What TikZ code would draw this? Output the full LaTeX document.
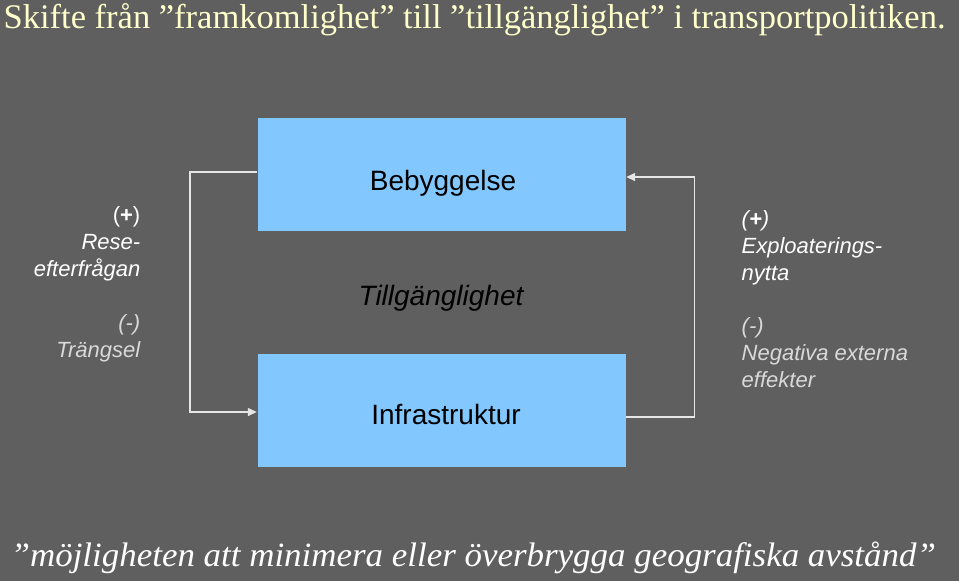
\documentclass[tikz,border=0pt]{standalone}
\usepackage{fontspec}
\setmainfont{Liberation Serif}
\setsansfont{Liberation Sans}
\usetikzlibrary{arrows.meta}
\usetikzlibrary{calc}
\usepackage{xcolor}
\definecolor{slidegrey}{HTML}{5F5F5F}
\definecolor{boxblue}{HTML}{82C8FF}
\definecolor{titlecream}{HTML}{FFFFCC}
\definecolor{minusgrey}{HTML}{D9D9D9}
\definecolor{loopline}{HTML}{E6E6E6}

\begin{document}
\begin{tikzpicture}[x=1pt, y=-1pt, >={Triangle[length=9pt,width=8pt]}, line width=1.4pt]
      % background
      \fill [slidegrey] (0,0) rectangle (959,581);
      \useasboundingbox (0,0) rectangle (959,581);

      % states
      \coordinate (center) at (441.5, 292.5);
      \coordinate (ylength) at (0, 118);

      \node [rectangle, fill=boxblue, minimum width=368pt, minimum height=113pt,
      inner sep=0pt, name=bebyggelse] at ($(center) - (ylength)$) {};
      \node [rectangle, fill=boxblue, minimum width=368pt, minimum height=113pt,
      inner sep=0pt, name=infrastruktur] at ($(center) + (ylength)$) {};

      \node [font=\sffamily\fontsize{28}{34}\selectfont, anchor=base, name=bebyggelse_text]
      at (443, 190) {Bebyggelse};
      \node [font=\sffamily\itshape\fontsize{28}{34}\selectfont, anchor=base, name=tillg_text]
      at (441, 305) {Tillgänglighet};
      \node [font=\sffamily\fontsize{28}{34}\selectfont, anchor=base, name=infra_text]
      at (446, 424) {Infrastruktur};

      % loops
      \draw [->, loopline] ($(bebyggelse.west) + (0,-2.5)$) -- ++(-67,0)
      |- ($(infrastruktur.west) + (0,1.5)$);
      \draw [->, loopline] ($(infrastruktur.east) + (0,6.5)$) -- ++(68,0)
      |- ($(bebyggelse.east) + (0,2.5)$);

      % side texts (base = last line)
      \node [font=\sffamily\fontsize{22}{27}\selectfont, align=right, white,
      anchor=base east, inner sep=0pt, name=left_plus] at (141, 276)
      {(\textbf{+})\\\itshape Rese-\\\itshape efterfrågan};
      \node [font=\sffamily\itshape\fontsize{22}{27}\selectfont, align=right, minusgrey,
      anchor=base east, inner sep=0pt, name=left_minus] at (141, 357)
      {(-)\\Trängsel};
      \node [font=\sffamily\itshape\fontsize{22}{27}\selectfont, align=left, white,
      anchor=base west, inner sep=0pt, name=right_plus] at (741, 280)
      {(\textbf{+})\\Exploaterings-\\nytta};
      \node [font=\sffamily\itshape\fontsize{22}{27}\selectfont, align=left, minusgrey,
      anchor=base west, inner sep=0pt, name=right_minus] at (741, 387)
      {(-)\\Negativa externa\\effekter};

      % title and footer
      \node [font=\fontsize{34.5}{40}\selectfont, titlecream, anchor=base west,
      inner sep=0pt, name=title] at (3, 28)
      {Skifte från ”framkomlighet” till ”tillgänglighet” i transportpolitiken.};
      \node [font=\itshape\fontsize{34}{40}\selectfont, white, anchor=base west,
      inner sep=0pt, name=footer] at (10, 566)
      {\scalebox{1.027}[1]{”möjligheten att minimera eller överbrygga geografiska avstånd”}};
    \end{tikzpicture}
\end{document}
